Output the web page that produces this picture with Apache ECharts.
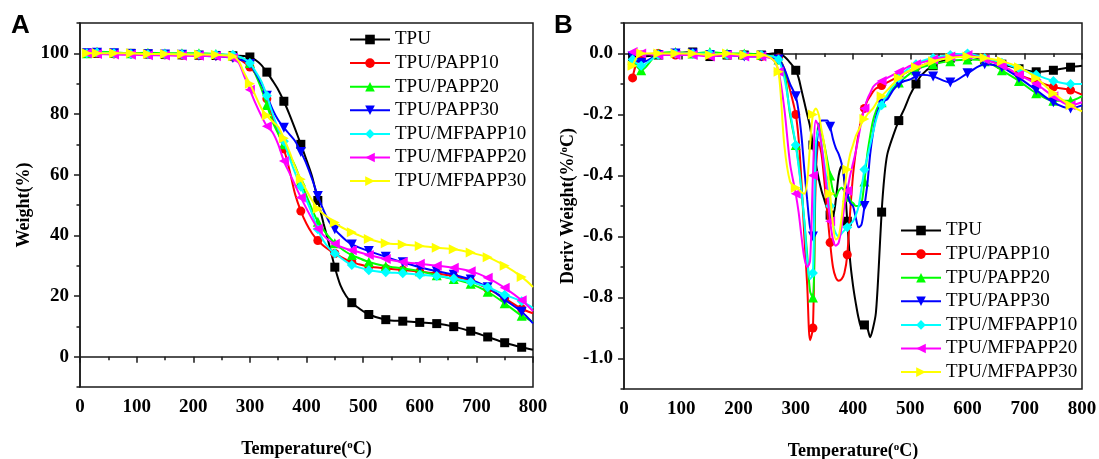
<!DOCTYPE html>
<html>
<head>
<meta charset="utf-8">
<script src="https://cdn.jsdelivr.net/npm/echarts@6/dist/echarts.min.js"></script>
<style>
  html, body { margin: 0; padding: 0; background: #fff; }
  #main { width: 1099px; height: 459px; }
</style>
</head>
<body>
<div id="main"></div>
<script>
// legend names, in drawing order
const seriesNames = ['TPU', 'TPU/PAPP10', 'TPU/PAPP20', 'TPU/PAPP30', 'TPU/MFPAPP10', 'TPU/MFPAPP20', 'TPU/MFPAPP30'];

// panel A: TGA, weight (%) vs temperature (°C)
const tempA = [12, 30, 60, 90, 120, 150, 180, 210, 240, 270,
  280, 290, 300, 310, 320, 330, 340, 350, 360, 370, 380, 390, 400, 410, 420, 430, 440, 450, 460, 470, 480,
  490, 510, 540, 570, 600, 630, 660, 690, 720, 750, 780, 800];
const weightTPU = [100, 100, 100, 100, 99.8, 99.6, 99.5, 99.4, 99.3, 99.2,
  99.2, 99.1, 98.8, 97.8, 96.2, 93.8, 91, 88, 84.2, 79.8, 75, 70, 64.8, 59.3, 51.5, 44, 37, 29.5, 23.5, 20, 17.8,
  16.3, 13.9, 12.2, 11.7, 11.3, 10.9, 9.9, 8.4, 6.5, 4.6, 3.1, 2.3];
const weightPAPP10 = [100, 100, 99.8, 99.8, 99.6, 99.5, 99.4, 99.3, 99.2, 98.8,
  98.2, 97, 95.5, 93.3, 90.5, 85, 79, 74, 68.5, 61.5, 53.5, 48, 43.8, 40.6, 38.3, 36.6, 35.2, 34, 33, 32, 31.2,
  30.6, 29.7, 29.1, 28.6, 28, 27.4, 26.5, 25, 22.4, 19.2, 15.8, 14.3];
const weightPAPP20 = [100, 100.5, 100.3, 100, 100.2, 100, 100, 100, 99.8, 99.3,
  98.8, 98.2, 96.8, 93, 88.5, 83, 77.5, 73.5, 70, 66.5, 62.8, 57.8, 53, 48.5, 44.5, 41.8, 39.4, 37.4, 35.8, 34.5, 33.5,
  32.7, 31.2, 29.8, 29.1, 28.2, 26.8, 25.6, 24, 21.4, 17.6, 13.5, 11.5];
const weightPAPP30 = [100, 100.2, 100, 99.8, 99.7, 99.6, 99.5, 99.2, 99, 98.5,
  98, 97.6, 96.5, 93.5, 90, 86, 81.5, 78, 75.5, 73.3, 71, 67.5, 63.5, 58.5, 53, 48.3, 44.5, 42, 40, 38.3, 37,
  36.2, 34.8, 32.9, 31.1, 29.5, 28.2, 27, 25.4, 22.9, 18.8, 14.8, 11];
const weightMFPAPP10 = [100, 100.3, 100, 99.8, 99.7, 99.8, 99.7, 99.6, 99.6, 99.5,
  99, 98.2, 96.8, 94, 90.8, 86, 80.2, 75, 71, 65.5, 60.5, 56, 51.5, 47, 42, 38.2, 35.7, 34, 32.7, 31.3, 30.2,
  29.6, 28.5, 27.8, 27.5, 27, 26.6, 25.8, 24.6, 22.9, 20.4, 18.3, 16];
const weightMFPAPP20 = [100, 99.8, 99.6, 99.5, 99.4, 99.3, 99.2, 99.2, 99, 98.5,
  97, 92.5, 88, 83.5, 79.5, 76, 74, 70, 64.5, 60.5, 56.5, 52.5, 48.8, 45.3, 42.2, 40, 38.3, 37.2, 36.3, 35.6, 35.1,
  34.6, 33.5, 32.2, 31.2, 30.6, 30, 29.3, 28.2, 26, 22.7, 18.6, 15];
const weightMFPAPP30 = [100, 100, 100, 100, 99.8, 99.8, 99.7, 99.6, 99.5, 99,
  97.5, 93.5, 90, 86, 82, 79.5, 77.5, 75.8, 72, 67.5, 62.5, 58.5, 54.8, 51.5, 48.8, 47, 45.6, 44.2, 42.9, 41.9, 41,
  40.2, 38.8, 37.4, 37, 36.5, 35.9, 35.4, 34.3, 32.8, 30, 26.3, 23];

// panel B: DTG, deriv weight (%/°C) vs temperature (°C)
const tempB = [15, 30, 60, 90, 120, 150, 180, 210, 240, 260, 270, 280, 290,
  300, 305, 310, 315, 320, 325, 330, 335, 340, 345,
  350, 355, 360, 365, 370, 375, 380, 385, 390, 395,
  400, 405, 410, 415, 420, 425, 430, 435, 440, 445,
  450, 455, 460, 470, 480, 490, 500, 510, 520,
  540, 570, 600, 630, 660, 690, 720, 750, 780, 800];
const derivTPU = [-0.01, -0.01, -0.005, 0, 0.005, -0.01, -0.005, -0.005, -0.005, 0, 0, -0.01, -0.03,
  -0.055, -0.08, -0.12, -0.16, -0.2, -0.24, -0.3, -0.36, -0.41, -0.45,
  -0.48, -0.51, -0.53, -0.53, -0.48, -0.4, -0.37, -0.42, -0.55, -0.68,
  -0.76, -0.82, -0.87, -0.9, -0.89, -0.9, -0.93, -0.9, -0.85, -0.7,
  -0.52, -0.4, -0.33, -0.27, -0.22, -0.18, -0.135, -0.1, -0.07,
  -0.04, -0.015, -0.01, -0.02, -0.035, -0.05, -0.06, -0.055, -0.045, -0.04];
const derivPAPP10 = [-0.08, -0.005, 0, -0.005, 0, -0.005, -0.005, -0.005, -0.01, -0.01, -0.015, -0.05, -0.12,
  -0.2, -0.28, -0.42, -0.6, -0.76, -0.94, -0.9, -0.4, -0.29, -0.33,
  -0.42, -0.52, -0.62, -0.7, -0.735, -0.745, -0.74, -0.72, -0.66, -0.52,
  -0.4, -0.32, -0.26, -0.21, -0.18, -0.155, -0.14, -0.125, -0.115, -0.11,
  -0.105, -0.1, -0.095, -0.085, -0.075, -0.065, -0.055, -0.045, -0.04,
  -0.025, -0.01, -0.005, -0.015, -0.04, -0.07, -0.09, -0.11, -0.12, -0.135];
const derivPAPP20 = [-0.02, -0.055, 0, 0.005, 0, 0.005, 0, 0, -0.005, -0.01, -0.02, -0.06, -0.2,
  -0.3, -0.36, -0.45, -0.55, -0.66, -0.78, -0.8, -0.35, -0.23, -0.26,
  -0.3, -0.35, -0.4, -0.45, -0.47, -0.45, -0.44, -0.45, -0.47, -0.485,
  -0.49, -0.5, -0.5, -0.49, -0.42, -0.33, -0.27, -0.22, -0.19, -0.17,
  -0.16, -0.15, -0.14, -0.115, -0.095, -0.08, -0.065, -0.055, -0.045,
  -0.035, -0.025, -0.02, -0.025, -0.055, -0.09, -0.13, -0.155, -0.155, -0.14];
const derivPAPP30 = [-0.01, -0.03, -0.005, 0, 0, -0.005, -0.005, -0.01, -0.01, -0.015, -0.02, -0.05, -0.1,
  -0.14, -0.19, -0.27, -0.38, -0.48, -0.57, -0.6, -0.35, -0.24, -0.22,
  -0.22, -0.22, -0.24, -0.28, -0.31, -0.33, -0.36, -0.41, -0.46, -0.49,
  -0.5, -0.54, -0.57, -0.56, -0.5, -0.43, -0.33, -0.26, -0.21, -0.18,
  -0.165, -0.155, -0.15, -0.12, -0.1, -0.09, -0.085, -0.075, -0.07,
  -0.075, -0.095, -0.065, -0.035, -0.045, -0.08, -0.12, -0.16, -0.18, -0.17];
const derivMFPAPP10 = [-0.02, -0.04, -0.005, 0, 0, 0, -0.005, -0.005, -0.005, -0.01, -0.02, -0.08, -0.19,
  -0.3, -0.37, -0.45, -0.55, -0.68, -0.74, -0.72, -0.3, -0.25, -0.3,
  -0.36, -0.43, -0.5, -0.56, -0.59, -0.6, -0.59, -0.58, -0.57, -0.56,
  -0.55, -0.53, -0.5, -0.44, -0.38, -0.34, -0.3, -0.26, -0.22, -0.19,
  -0.17, -0.15, -0.135, -0.105, -0.08, -0.06, -0.045, -0.035, -0.025,
  -0.015, -0.005, 0, -0.015, -0.03, -0.05, -0.07, -0.09, -0.1, -0.1];
const derivMFPAPP20 = [0.005, 0, -0.005, -0.005, -0.005, -0.01, -0.005, -0.01, -0.01, -0.02, -0.06, -0.18, -0.36,
  -0.46, -0.52, -0.6, -0.67, -0.7, -0.68, -0.4, -0.22, -0.24, -0.3,
  -0.38, -0.46, -0.55, -0.61, -0.63, -0.62, -0.57, -0.5, -0.45, -0.4,
  -0.36, -0.32, -0.27, -0.22, -0.18, -0.15, -0.13, -0.11, -0.1, -0.095,
  -0.09, -0.085, -0.08, -0.07, -0.06, -0.05, -0.04, -0.035, -0.03,
  -0.02, -0.01, -0.005, -0.02, -0.04, -0.07, -0.1, -0.14, -0.17, -0.16];
const derivMFPAPP30 = [-0.04, 0, 0, 0, 0, -0.005, 0, -0.005, -0.005, -0.02, -0.06, -0.3, -0.42,
  -0.44, -0.445, -0.455, -0.46, -0.42, -0.3, -0.2, -0.18, -0.2, -0.25,
  -0.3, -0.37, -0.46, -0.56, -0.61, -0.6, -0.54, -0.45, -0.38, -0.33,
  -0.3, -0.27, -0.25, -0.23, -0.215, -0.2, -0.19, -0.18, -0.165, -0.15,
  -0.14, -0.13, -0.12, -0.1, -0.08, -0.065, -0.055, -0.045, -0.04,
  -0.025, -0.015, -0.01, -0.015, -0.025, -0.045, -0.08, -0.13, -0.17, -0.19];

// tick values
const weightLabels = [0, 20, 40, 60, 80, 100];
const weightMinor = [-10, 10, 30, 50, 70, 90, 110];
const derivLabels = [-1.0, -0.8, -0.6, -0.4, -0.2, 0.0];
const derivMinor = [-1.1, -0.9, -0.7, -0.5, -0.3, -0.1, 0.1];

// styles
const seriesColors = ['#000000', '#ff0000', '#00ff00', '#0000ff', '#00ffff', '#ff00ff', '#ffff00'];
const seriesSymbols = ['rect', 'circle', 'triangle', 'triangle', 'diamond', 'triangle', 'triangle'];
const seriesRotate = [0, 0, 0, 180, 0, 90, -90];
const seriesSymbolSize = [9, 9, 10, 10, 10, 10, 10];

const serif = '"Liberation Serif", "Times New Roman", serif';
const axisColor = '#1a1a1a';

function buildSeries(temps, lists, gridIdx, yIdx) {
  return lists.map((vals, k) => ({
    name: seriesNames[k],
    type: 'line',
    xAxisIndex: gridIdx,
    yAxisIndex: yIdx,
    smooth: 0.3,
    showAllSymbol: true,
    symbol: seriesSymbols[k],
    symbolRotate: seriesRotate[k],
    symbolSize: seriesSymbolSize[k],
    lineStyle: { width: 2, color: seriesColors[k] },
    itemStyle: { color: seriesColors[k] },
    emphasis: { disabled: true },
    z: 2 + k,
    // a marker every 30 degrees, like the original plot
    data: temps.map((t, i) => (i === 0 || t % 30 === 0)
      ? [t, vals[i]]
      : { value: [t, vals[i]], symbol: 'none' })
  }));
}

function xAxisFor(gridIdx) {
  return {
    type: 'value',
    gridIndex: gridIdx,
    min: 0,
    max: 800,
    interval: 100,
    axisLine: { show: true, lineStyle: { color: axisColor, width: 1.5 } },
    axisTick: { show: true, length: 6, lineStyle: { color: axisColor, width: 1.5 } },
    minorTick: { show: true, splitNumber: 2, length: 3.5, lineStyle: { color: axisColor, width: 1.5 } },
    splitLine: { show: false },
    axisLabel: { color: '#000', fontFamily: serif, fontWeight: 'bold', fontSize: 19, margin: 11 },
    name: 'Temperature({sup|o}C)',
    nameLocation: 'middle',
    nameGap: 53,
    nameTextStyle: {
      color: '#000', fontFamily: serif, fontWeight: 'bold', fontSize: 18,
      rich: { sup: { fontFamily: serif, fontWeight: 'bold', fontSize: 11, verticalAlign: 'top', color: '#000' } }
    }
  };
}

function yAxisFor(gridIdx, min, max, labels, name, gap, fmt) {
  return {
    type: 'value',
    gridIndex: gridIdx,
    position: 'left',
    min: min,
    max: max,
    axisLine: { show: true, lineStyle: { color: axisColor, width: 1.5 } },
    axisTick: { show: true, length: 6, customValues: labels, lineStyle: { color: axisColor, width: 1.5 } },
    splitLine: { show: false },
    axisLabel: { customValues: labels, formatter: fmt, color: '#000', fontFamily: serif, fontWeight: 'bold', fontSize: 19, margin: 11 },
    name: name,
    nameLocation: 'middle',
    nameGap: gap,
    nameTextStyle: {
      color: '#000', fontFamily: serif, fontWeight: 'bold', fontSize: 18,
      rich: { sup: { fontFamily: serif, fontWeight: 'bold', fontSize: 11, verticalAlign: 'top', color: '#000' } }
    }
  };
}

function minorYAxis(gridIdx, min, max, ticks) {
  return {
    type: 'value',
    gridIndex: gridIdx,
    position: 'left',
    min: min,
    max: max,
    axisLine: { show: false },
    axisTick: { show: true, length: 3.5, customValues: ticks, lineStyle: { color: axisColor, width: 1.5 } },
    axisLabel: { show: false },
    splitLine: { show: false }
  };
}

function legendAt(left, top) {
  return {
    data: seriesNames,
    orient: 'vertical',
    left: left,
    top: top,
    itemWidth: 40,
    itemHeight: 12,
    itemGap: 4.6,
    selectedMode: false,
    textStyle: { fontFamily: serif, fontSize: 19, color: '#000' }
  };
}

const chart = echarts.init(document.getElementById('main'), null, { renderer: 'canvas' });

const option = {
  animation: false,
  backgroundColor: '#ffffff',
  grid: [
    { left: 80, top: 23, width: 453, height: 364, show: true, borderColor: axisColor, borderWidth: 1.5, outerBoundsMode: 'none' },
    { left: 624, top: 23, width: 458, height: 366, show: true, borderColor: axisColor, borderWidth: 1.5, outerBoundsMode: 'none' }
  ],
  xAxis: [xAxisFor(0), xAxisFor(1)],
  yAxis: [
    yAxisFor(0, -10, 110, weightLabels, 'Weight(%)', 47, v => String(v)),
    minorYAxis(0, -10, 110, weightMinor),
    yAxisFor(1, -1.1, 0.1, derivLabels, 'Deriv Weight(%/{sup|o}C)', 47, v => v.toFixed(1)),
    minorYAxis(1, -1.1, 0.1, derivMinor)
  ],
  legend: [legendAt(344, 25), legendAt(895, 216)],
  graphic: [
    { type: 'text', left: 11, top: 13, style: { text: 'A', font: 'bold 26px "Liberation Sans", Arial, sans-serif', fill: '#000' } },
    { type: 'text', left: 554, top: 13, style: { text: 'B', font: 'bold 26px "Liberation Sans", Arial, sans-serif', fill: '#000' } }
  ],
  series: [
    ...buildSeries(tempA, [weightTPU, weightPAPP10, weightPAPP20, weightPAPP30, weightMFPAPP10, weightMFPAPP20, weightMFPAPP30], 0, 0),
    ...buildSeries(tempB, [derivTPU, derivPAPP10, derivPAPP20, derivPAPP30, derivMFPAPP10, derivMFPAPP20, derivMFPAPP30], 1, 2)
  ]
};

chart.setOption(option);
</script>
</body>
</html>
